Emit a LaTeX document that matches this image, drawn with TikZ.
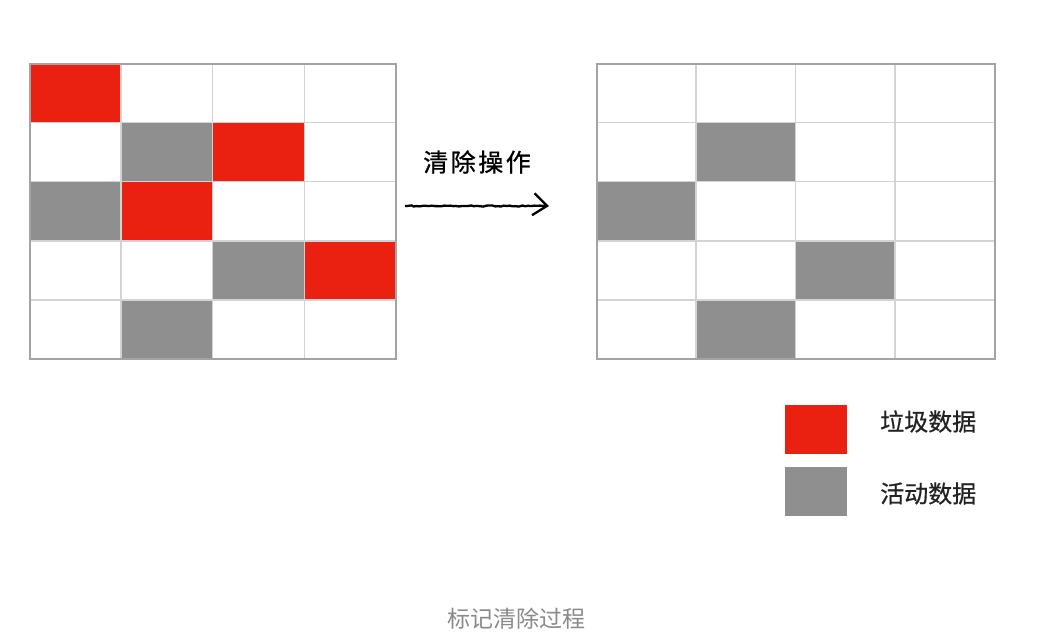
\documentclass[tikz,border=0pt]{standalone}
\usepackage{fontspec}
\newfontfamily\cjk{Noto Sans CJK SC}
\usetikzlibrary{arrows.meta,decorations.pathmorphing}
\definecolor{garbage}{HTML}{EA2010}
\definecolor{live}{HTML}{8F8F8F}
\definecolor{gridline}{HTML}{D3D3D3}
\definecolor{frame}{HTML}{A4A4A4}
\definecolor{captioncol}{HTML}{8A8A8A}
\definecolor{labelcol}{HTML}{222222}
\tikzset{
  redcell/.style={fill=garbage, draw=none},
  graycell/.style={fill=live, draw=none},
  gridl/.style={draw=gridline, line width=1.5pt},
  frameline/.style={draw=frame, line width=2pt},
  swatch/.style={draw=none, minimum width=62pt, minimum height=49pt, inner sep=0pt},
  lbl/.style={font=\cjk\fontsize{24}{28}\selectfont\addfontfeature{FakeBold=0.6}, text=labelcol, anchor=west, inner sep=0pt},
  handarrow/.style={draw=black, line width=2.3pt, -{Straight Barb[length=14pt,width=22pt,line width=2.3pt]},
     decorate, decoration={random steps, segment length=3pt, amplitude=0.6pt}}
}
\begin{document}
\begin{tikzpicture}[x=1pt,y=-1pt]
\useasboundingbox (0,0) rectangle (1051,642);
\fill[white] (0,0) rectangle (1051,642);
% ---------- left grid ----------
\def\lx{29.5}\def\lw{91.6}\def\gy{63.5}\def\rh{59.1}
\foreach \c/\r in {0/0,2/1,1/2,3/3}
  \path[redcell] (\lx+\c*\lw,\gy+\r*\rh) rectangle (\lx+\c*\lw+\lw,\gy+\r*\rh+\rh);
\foreach \c/\r in {1/1,0/2,2/3,1/4}
  \path[graycell] (\lx+\c*\lw,\gy+\r*\rh) rectangle (\lx+\c*\lw+\lw,\gy+\r*\rh+\rh);
\foreach \c in {1,2,3}
  \draw[gridl] (\lx+\c*\lw,\gy) -- (\lx+\c*\lw,\gy+5*\rh);
\foreach \r in {1,2,3,4}
  \draw[gridl] (\lx,\gy+\r*\rh) -- (\lx+4*\lw,\gy+\r*\rh);
\draw[frameline] (\lx,\gy) rectangle (\lx+4*\lw,\gy+5*\rh);
% ---------- right grid ----------
\def\rx{596.5}\def\rw{99.5}
\foreach \c/\r in {1/1,0/2,2/3,1/4}
  \path[graycell] (\rx+\c*\rw,\gy+\r*\rh) rectangle (\rx+\c*\rw+\rw,\gy+\r*\rh+\rh);
\foreach \c in {1,2,3}
  \draw[gridl] (\rx+\c*\rw,\gy) -- (\rx+\c*\rw,\gy+5*\rh);
\foreach \r in {1,2,3,4}
  \draw[gridl] (\rx,\gy+\r*\rh) -- (\rx+4*\rw,\gy+\r*\rh);
\draw[frameline] (\rx,\gy) rectangle (\rx+4*\rw,\gy+5*\rh);
% ---------- arrow ----------
\coordinate (arrowstart) at (405,206);
\coordinate (arrowend) at (549,206);
\draw[handarrow] (arrowstart) -- (arrowend);
\node[font=\cjk\fontsize{25}{28}\selectfont\addfontfeature{LetterSpace=10,FakeBold=0.8}, inner sep=0pt] (optext) at (477,162) {清除操作};
% ---------- legend ----------
\node[swatch, fill=garbage, anchor=north west] (redkey) at (785,404.5) {};
\node[swatch, fill=live, anchor=north west] (graykey) at (785,467) {};
\node[lbl] (redlabel) at (880,421.5) {垃圾数据};
\node[lbl] (graylabel) at (880,493.5) {活动数据};
% ---------- caption ----------
\node[font=\cjk\fontsize{23}{26}\selectfont, text=captioncol, inner sep=0pt] (caption) at (516.5,619) {标记清除过程};
\end{tikzpicture}
\end{document}
